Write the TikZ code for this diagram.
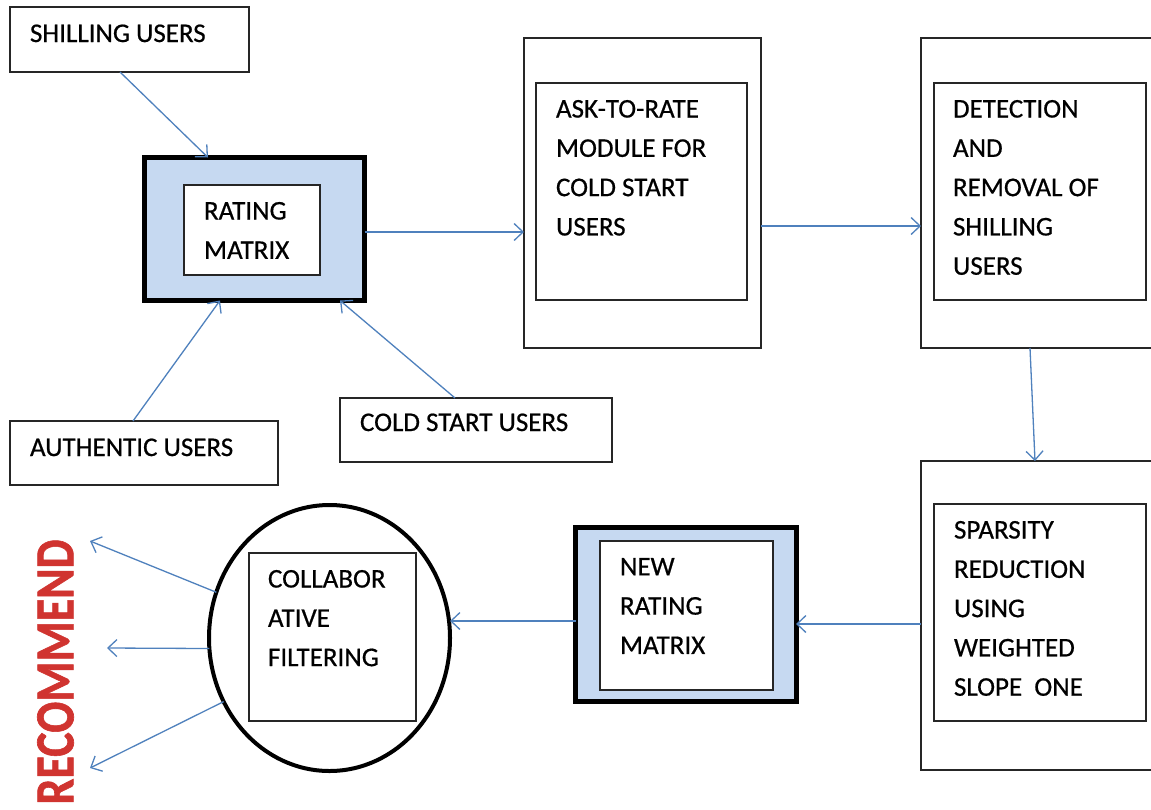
\documentclass[tikz,border=0pt]{standalone}
\usepackage{fontspec}
\setmainfont{Carlito}
\newfontfamily\boxfont[FakeBold=0.6]{Carlito}
\newfontfamily\recfont[FakeBold=1.2]{Carlito Bold}
\usetikzlibrary{arrows.meta,shapes.geometric}
\definecolor{flow}{RGB}{79,129,189}
\definecolor{matrixfill}{RGB}{198,217,241}
\definecolor{recred}{RGB}{208,52,48}
\tikzset{
  box/.style={draw=black!85, line width=1.4pt, rectangle, inner sep=0pt, outer sep=0pt},
  heavybox/.style={draw=black, line width=5pt, fill=matrixfill, rectangle, inner sep=0pt, outer sep=0pt},
  lbl/.style={anchor=north west, inner sep=0pt, outer sep=0pt, align=left,
    font=\boxfont\fontsize{27}{39.3}\selectfont, text=black},
  flowarrow/.style={draw=flow, line width=1.3pt,
    -{Straight Barb[length=9pt,width=17pt,line width=1.3pt]}},
}
\begin{document}
\begin{tikzpicture}[x=1pt, y=-1pt]
\clip (0,0) rectangle (1151,809);
\fill[white] (0,0) rectangle (1151,809);

% input user groups
\node[box, minimum width=239pt, minimum height=65pt] (shil) at (129.5,39.5) {};
\node[box, minimum width=268pt, minimum height=64pt] (auth) at (144,453) {};
\node[box, minimum width=272pt, minimum height=64pt] (cold) at (476,430) {};

% rating matrix
\node[heavybox, minimum width=220pt, minimum height=143pt] (rm) at (254.5,229) {};
\node[box, fill=white, minimum width=136pt, minimum height=90pt] (rmin) at (252,230) {};

% ask-to-rate module
\node[box, minimum width=237pt, minimum height=310pt] (ask) at (642.5,193) {};
\node[box, minimum width=211pt, minimum height=217pt] (askin) at (641.5,191.5) {};

% detection and removal
\node[box, minimum width=249pt, minimum height=310pt] (det) at (1045.5,193) {};
\node[box, minimum width=212pt, minimum height=217pt] (detin) at (1040,191.5) {};

% sparsity reduction
\node[box, minimum width=249pt, minimum height=309pt] (spa) at (1045.5,615.5) {};
\node[box, minimum width=212pt, minimum height=217pt] (spain) at (1040,612.5) {};

% new rating matrix
\node[heavybox, minimum width=220.5pt, minimum height=174pt] (nrm) at (685.75,614) {};
\node[box, fill=white, minimum width=173pt, minimum height=149pt] (nrmin) at (686.5,615.5) {};

% collaborative filtering
\node[ellipse, draw=black, line width=4pt, minimum width=241pt, minimum height=266pt,
      inner sep=0pt, outer sep=0pt] (cf) at (329.5,638) {};
\node[box, minimum width=167pt, minimum height=168pt] (cfin) at (332.5,637) {};

% labels
\node[lbl] (tshil) at (30,24.5) {SHILLING USERS};
\node[lbl] (tauth) at (30,438.5) {AUTHENTIC USERS};
\node[lbl] (tcold) at (360,413.5) {COLD START USERS};
\node[lbl] (trm) at (204,202) {RATING\\MATRIX};
\node[lbl] (task) at (556,100) {ASK-TO-RATE\\MODULE FOR\\COLD START\\USERS};
\node[lbl] (tdet) at (953,100) {DETECTION\\AND\\REMOVAL OF\\SHILLING\\USERS};
\node[lbl] (tspa) at (954,521) {SPARSITY\\REDUCTION\\USING\\WEIGHTED\\SLOPE\ \ ONE};
\node[lbl] (tnrm) at (620,558) {NEW\\RATING\\MATRIX};
\node[lbl] (tcf) at (268,570) {COLLABOR\\ATIVE\\FILTERING};

\node[rotate=90, inner sep=0pt, text=recred,
      font=\recfont\fontsize{46}{46}\selectfont] (rec) at (55.5,672) {\scalebox{1}[1.2]{RECOMMEND}};

% recommendation targets
\coordinate (r1) at (90,541);
\coordinate (r2) at (107,648);
\coordinate (r3) at (90,768);

% connectors
\draw[flowarrow] ([xshift=110pt]shil.south west) -- ([xshift=63.5pt]rm.north west);
\draw[flowarrow] ([xshift=123pt]auth.north west) -- ([xshift=75.5pt]rm.south west);
\draw[flowarrow] ([xshift=115pt]cold.north west) -- ([xshift=-24.5pt]rm.south east);
\draw[flowarrow] ([yshift=-3pt]rm.east) -- ([yshift=-3pt]rm.east -| ask.west);
\draw[flowarrow] ([yshift=-33pt]ask.east) -- ([yshift=-33pt]ask.east -| det.west);
\draw[flowarrow] ([xshift=109pt]det.south west) -- ([xshift=114pt]spa.north west);
\draw[flowarrow] ([yshift=-8.5pt]spa.west) -- ([yshift=-8.5pt]spa.west -| nrm.east);
\draw[flowarrow] ([yshift=-7pt]nrm.west) -- ([yshift=-7pt]nrm.west -| cf.east);
\draw[flowarrow] (cf.158) -- (r1);
\draw[flowarrow] (cf.185) -- (r2);
\draw[flowarrow] (cf.211) -- (r3);
\end{tikzpicture}
\end{document}
